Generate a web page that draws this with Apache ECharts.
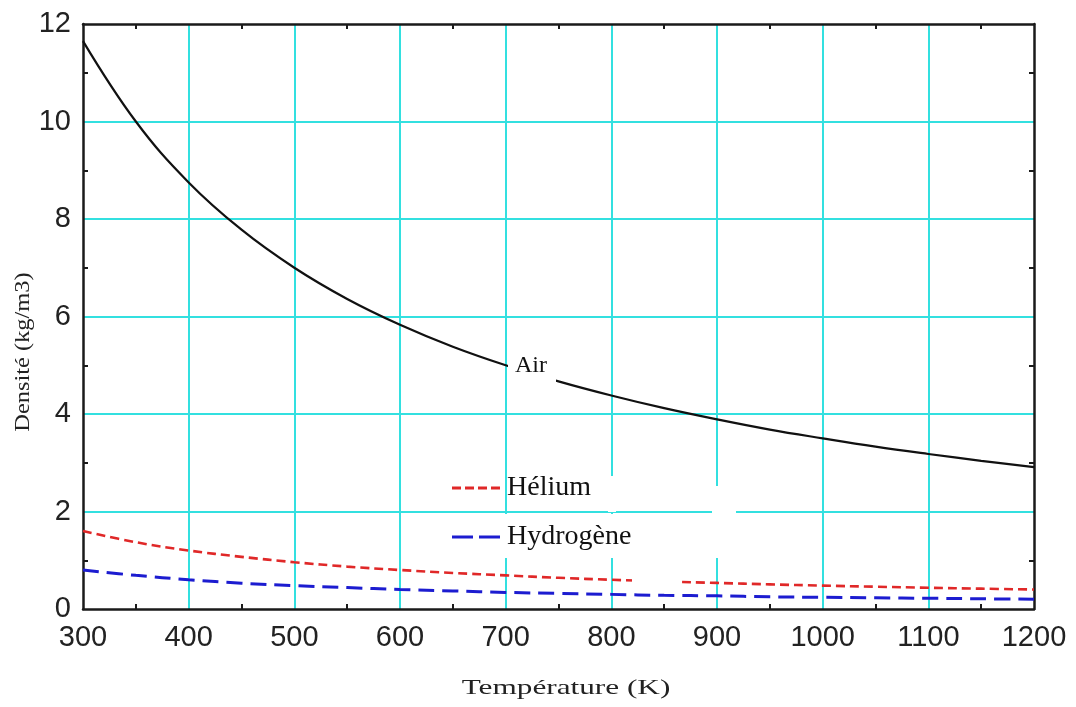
<!DOCTYPE html>
<html>
<head>
<meta charset="utf-8">
<title>Densité en fonction de la température</title>
<script src="https://cdn.jsdelivr.net/npm/echarts@6/dist/echarts.min.js"></script>
<style>
  html, body { margin: 0; padding: 0; background: #fff; }
  #chart { width: 1076px; height: 707px; }
</style>
</head>
<body>
<div id="chart"></div>
<script>
// temperatures (K), lues tous les 50 K
const temperatures = [300, 350, 400, 450, 500, 550, 600, 650, 700, 750, 800, 850, 900, 950, 1000, 1050, 1100, 1150, 1200];
// densités
const air = [11.65, 10.0, 8.75, 7.78, 7.0, 6.36, 5.83, 5.38, 5.0, 4.67, 4.38, 4.12, 3.89, 3.68, 3.5, 3.33, 3.18, 3.04, 2.91];
const helium = [1.6, 1.37, 1.2, 1.07, 0.96, 0.87, 0.8, 0.74, 0.69, 0.64, 0.6, 0.565, 0.535, 0.505, 0.48, 0.457, 0.436, 0.417, 0.4];
const hydrogene = [0.8, 0.69, 0.6, 0.53, 0.48, 0.44, 0.4, 0.37, 0.34, 0.32, 0.3, 0.28, 0.27, 0.25, 0.24, 0.23, 0.22, 0.21, 0.2];

const pairs = (ys) => temperatures.map((t, i) => [t, ys[i]]);

const serif = "'Liberation Serif', 'DejaVu Serif', serif";
const sans = "'Liberation Sans', Arial, sans-serif";
const gridColor = "#33e0e0";
const frameColor = "#1a1a1a";

// icones de légende en tirets
const iconHelium = "path://M0,0h9v3h-9z M13,0h9v3h-9z M26,0h9v3h-9z M39,0h9v3h-9z";
const iconHydrogene = "path://M0,0h21v3h-21z M27,0h21v3h-21z";

const chart = echarts.init(document.getElementById("chart"));

// axes principaux (bas / gauche) + axes de cadre (haut / droite)
const mainAxis = (extra) => Object.assign({
  type: "value",
  axisLine: { show: true, onZero: false, lineStyle: { color: frameColor, width: 2.5 } },
  axisTick: { show: false, inside: true },
  minorTick: { show: true, splitNumber: 2, length: 5, lineStyle: { color: frameColor, width: 2 } },
  axisLabel: { color: "#222", fontSize: 29, fontFamily: sans, margin: 12, formatter: (v) => String(v) },
  splitLine: { show: true, showMinLine: false, showMaxLine: false, lineStyle: { color: gridColor, width: 2 } }
}, extra);

const frameAxis = (extra) => Object.assign({
  type: "value",
  axisLine: { show: true, onZero: false, lineStyle: { color: frameColor, width: 2.5 } },
  axisTick: { show: false, inside: true },
  minorTick: { show: true, splitNumber: 2, length: 5, lineStyle: { color: frameColor, width: 2 } },
  axisLabel: { show: false },
  splitLine: { show: false }
}, extra);

const option = {
  backgroundColor: "#fff",
  animation: false,
  grid: { left: 83, right: 42, top: 24, bottom: 98 },
  xAxis: [
    mainAxis({ min: 300, max: 1200, interval: 100, position: "bottom", axisLabel: { color: "#222", fontSize: 29, fontFamily: sans, margin: 14, formatter: (v) => String(v) } }),
    frameAxis({ min: 300, max: 1200, interval: 100, position: "top" })
  ],
  yAxis: [
    mainAxis({ min: 0, max: 12, interval: 2, position: "left" }),
    frameAxis({ min: 0, max: 12, interval: 2, position: "right" })
  ],
  legend: {
    data: [
      { name: "Hélium", icon: iconHelium },
      { name: "Hydrogène", icon: iconHydrogene }
    ],
    orient: "vertical",
    left: 447,
    top: 468,
    itemWidth: 52,
    itemHeight: 3,
    itemGap: 19,
    textStyle: { fontSize: 28, fontFamily: serif, color: "#111", lineHeight: 30 }
  },
  series: [
    {
      name: "Air",
      type: "line",
      data: pairs(air),
      smooth: 0.4,
      symbol: "none",
      lineStyle: { color: "#111", width: 2.2 },
      itemStyle: { color: "#111" },
      z: 3
    },
    {
      name: "Hélium",
      type: "line",
      data: pairs(helium),
      smooth: 0.4,
      symbol: "none",
      lineStyle: { color: "#e02828", width: 2.6, type: [9, 5] },
      itemStyle: { color: "#e02828" },
      z: 3
    },
    {
      name: "Hydrogène",
      type: "line",
      data: pairs(hydrogene),
      smooth: 0.4,
      symbol: "none",
      lineStyle: { color: "#1c1cd0", width: 3, type: [16, 8] },
      itemStyle: { color: "#1c1cd0" },
      z: 3
    }
  ],
  graphic: [
    // zones blanches de la figure d'origine
    { type: "rect", z: 1, shape: { x: 440, y: 514, width: 272, height: 44 }, style: { fill: "#fff" } },
    { type: "rect", z: 1, shape: { x: 712, y: 486, width: 24, height: 72 }, style: { fill: "#fff" } },
    { type: "rect", z: 1, shape: { x: 608, y: 476, width: 8, height: 36 }, style: { fill: "#fff" } },
    { type: "rect", z: 10, shape: { x: 632, y: 574, width: 45, height: 14 }, style: { fill: "#fff" } },
    // étiquette Air
    { type: "rect", z: 10, shape: { x: 508, y: 352, width: 48, height: 36 }, style: { fill: "#fff" } },
    {
      type: "text", z: 11, x: 515, y: 366,
      style: { text: "Air", font: "24px " + serif, fill: "#111", textAlign: "left", textVerticalAlign: "middle" }
    },
    // titres des axes
    {
      type: "text", z: 11, x: 566, y: 688, scaleX: 1.42,
      style: { text: "Température (K)", font: "22px " + serif, fill: "#222", textAlign: "center", textVerticalAlign: "middle" }
    },
    {
      type: "text", z: 11, x: 23, y: 352, rotation: Math.PI / 2, scaleX: 1.11,
      style: { text: "Densité (kg/m3)", font: "22px " + serif, fill: "#222", textAlign: "center", textVerticalAlign: "middle" }
    }
  ]
};

chart.setOption(option);
</script>
</body>
</html>
